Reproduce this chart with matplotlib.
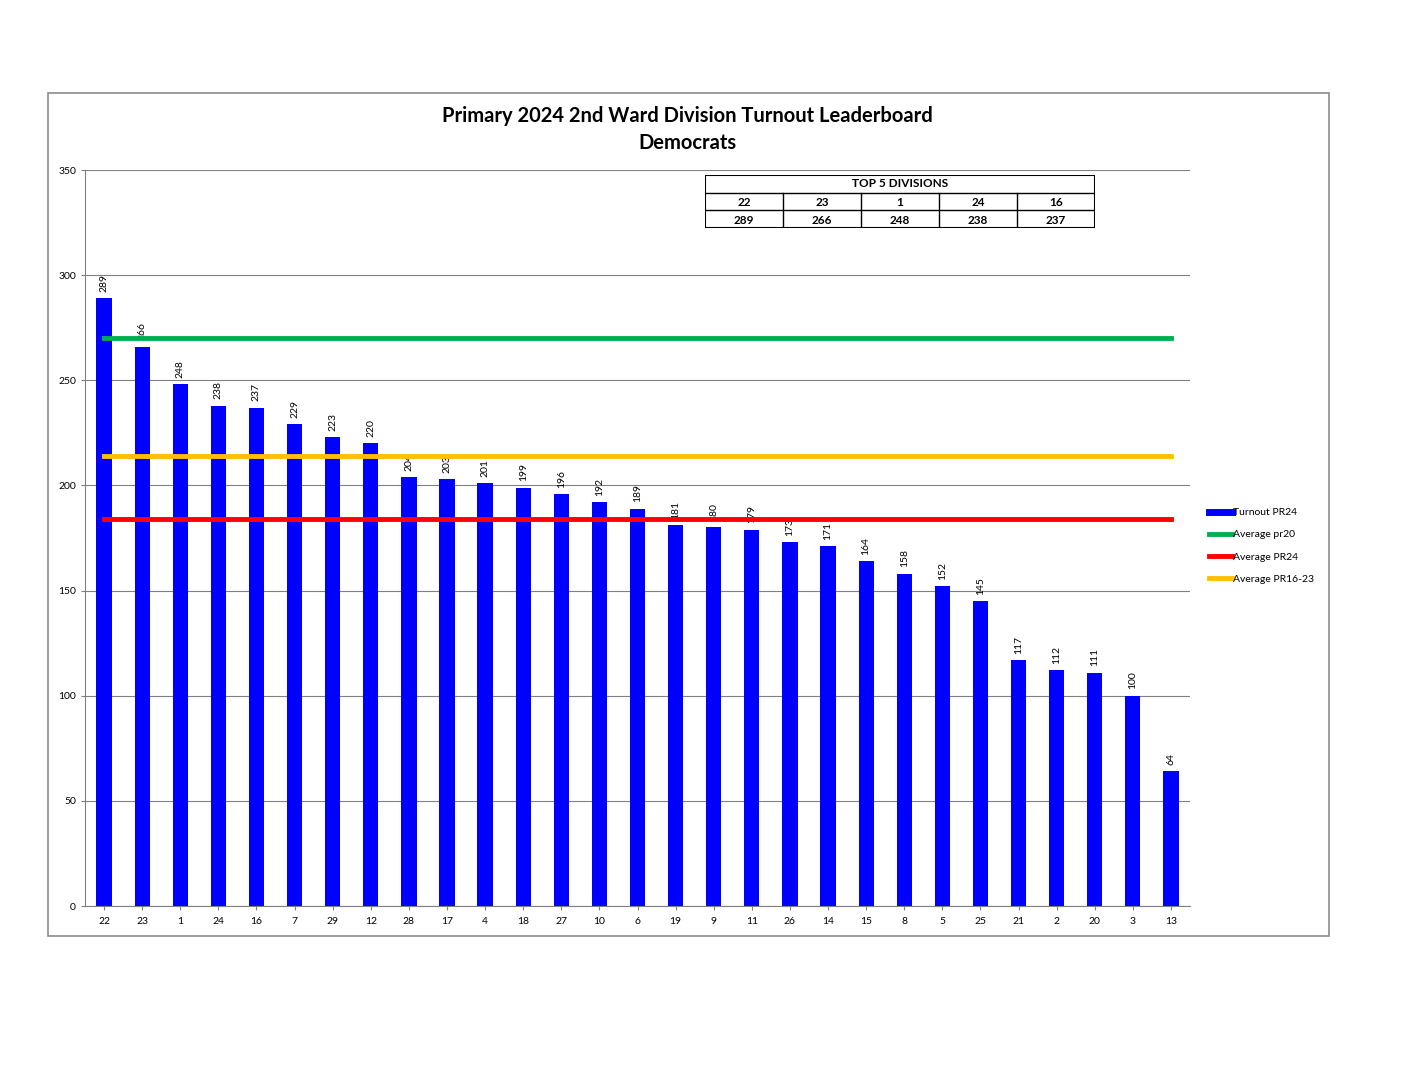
import matplotlib
matplotlib.use("Agg")
import matplotlib.pyplot as plt
from matplotlib.patches import Rectangle
from matplotlib.lines import Line2D

divisions = ["22", "23", "1", "24", "16", "7", "29", "12", "28", "17", "4", "18", "27", "10", "6",
             "19", "9", "11", "26", "14", "15", "8", "5", "25", "21", "2", "20", "3", "13"]
turnout_pr24 = [289, 266, 248, 238, 237, 229, 223, 220, 204, 203, 201, 199, 196, 192, 189,
                181, 180, 179, 173, 171, 164, 158, 152, 145, 117, 112, 111, 100, 64]
avg_pr20 = 270
avg_pr24 = 184
avg_pr16_23 = 214
top5_divs = divisions[:5]
top5_vals = turnout_pr24[:5]

plt.rcParams['font.family'] = ['Lato', 'DejaVu Sans']

W, H = 1408, 1088
fig = plt.figure(figsize=(W / 100, H / 100), dpi=100)

# outer chart frame
fig.add_artist(Rectangle((48 / W, 1 - 936 / H), (1329 - 48) / W, (936 - 93) / H,
                         transform=fig.transFigure, fill=False, edgecolor="#8c8c8c", linewidth=1.2))

ax = fig.add_axes([85 / W, 1 - 906 / H, (1190 - 85) / W, (906 - 170) / H])
x = list(range(len(divisions)))
ax.bar(x, turnout_pr24, width=0.4, color="#0000ff", zorder=2, label="Turnout PR24")
for xi, v in zip(x, turnout_pr24):
    ax.text(xi, v + 3, str(v), rotation=90, ha="center", va="bottom", fontsize=7.5, zorder=3)

ax.plot(x, [avg_pr20] * len(x), color="#00b050", linewidth=3.5, zorder=4, label="Average pr20")
ax.plot(x, [avg_pr24] * len(x), color="#ff0000", linewidth=3.5, zorder=4, label="Average PR24")
ax.plot(x, [avg_pr16_23] * len(x), color="#ffc000", linewidth=3.5, zorder=4, label="Average PR16-23")

ax.set_xlim(-0.5, len(x) - 0.5)
ax.set_ylim(0, 350)
ax.set_yticks(range(0, 351, 50))
ax.set_xticks(x)
ax.set_xticklabels(divisions)
ax.tick_params(axis="both", labelsize=7.5, length=3, color="#808080")
ax.tick_params(axis="x", pad=5)
ax.grid(axis="y", color="#808080", linewidth=0.8, zorder=0)
ax.set_axisbelow(True)
for s in ["top", "right"]:
    ax.spines[s].set_visible(False)
ax.spines["left"].set_color("#808080")
ax.spines["bottom"].set_color("#808080")

fig.text(687 / W, 1 - 116 / H, "Primary 2024 2nd Ward Division Turnout Leaderboard",
         ha="center", va="center", fontsize=14.5, fontweight="bold")
fig.text(687 / W, 1 - 143 / H, "Democrats", ha="center", va="center", fontsize=14.5, fontweight="bold")

# legend
handles = [Line2D([], [], color="#0000ff", linewidth=5),
           Line2D([], [], color="#00b050", linewidth=3.5),
           Line2D([], [], color="#ff0000", linewidth=3.5),
           Line2D([], [], color="#ffc000", linewidth=3.5)]
labels = ["Turnout PR24", "Average pr20", "Average PR24", "Average PR16-23"]
fig.legend(handles, labels, loc="center left", bbox_to_anchor=(1200 / W, 1 - 546 / H),
           frameon=False, fontsize=7.5, handlelength=2.2, handletextpad=0.1, labelspacing=1.25)

# top 5 table
tax = fig.add_axes([705 / W, 1 - 228 / H, 390 / W, 53 / H])
tax.set_xlim(0, 5)
tax.set_ylim(0, 3)
tax.axis("off")
tax.add_patch(Rectangle((0, 0), 5, 3, fill=False, edgecolor="black", linewidth=1.5))
tax.plot([0, 5], [2, 2], color="black", linewidth=1)
tax.plot([0, 5], [1, 1], color="black", linewidth=1)
for i in range(1, 5):
    tax.plot([i, i], [0, 2], color="black", linewidth=1)
tax.text(2.5, 2.5, "TOP 5 DIVISIONS", ha="center", va="center", fontsize=8.5, fontweight="bold")
for i, (d, v) in enumerate(zip(top5_divs, top5_vals)):
    tax.text(i + 0.5, 1.45, d, ha="center", va="center", fontsize=8.5, fontweight="bold")
    tax.text(i + 0.5, 0.45, str(v), ha="center", va="center", fontsize=8.5, fontweight="bold")

fig.savefig("out.png", dpi=100)
